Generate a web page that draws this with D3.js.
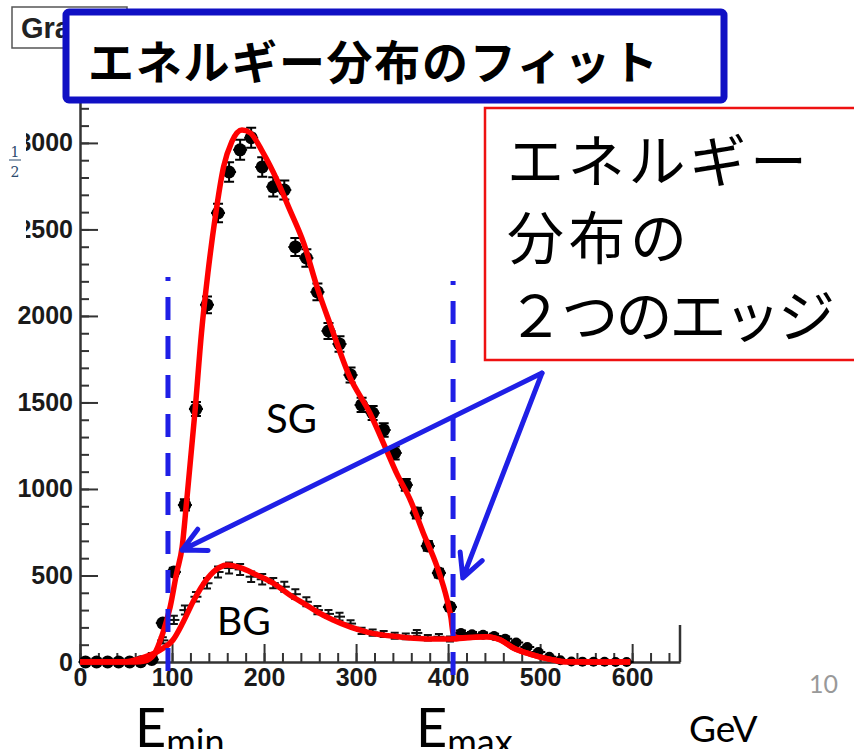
<!DOCTYPE html>
<html>
<head>
<meta charset="utf-8">
<script src="https://cdn.jsdelivr.net/npm/d3@7"></script>
<style>
  body { margin: 0; background: #fff; }
</style>
</head>
<body>
<script>
// --- datos ---

// histograma SG: centros de bin (GeV), cuentas, errores
var sgE = [6,18,30,42,54,66,78,90,102,114,126,138,150,162,174,186,198,210,222,234,
           246,258,270,282,294,306,318,330,342,354,366,378,390,402,414,426,438,450,462,474,
           486,498,510,522,534,546,558,570,582,594];
var sgN = [0,0,0,0,0,2,15,225,520,908,1462,2064,2595,2832,2960,3030,2861,2746,2728,2399,
           2335,2139,1913,1838,1659,1486,1439,1341,1208,1023,861,671,514,318,168,160,158,150,135,112,
           86,58,30,10,3,2,1,1,0,0];
var sgErr = [8,8,8,8,8,8,10,18,25,32,40,48,54,56,58,58,56,55,55,52,
             51,49,46,45,43,41,40,39,37,34,31,28,25,20,14,14,13,13,12,11,
             10,8,6,5,4,4,3,3,3,3];

// histograma BG
var bgE = [66,78,90,102,114,126,138,150,162,174,186,198,210,222,234,246,258,270,282,294,
           306,318,330,342,354,366,378,390,402];
var bgN = [10,40,125,243,300,377,455,520,543,535,493,478,456,435,392,348,300,278,262,222,
           180,170,162,152,148,168,140,146,133];
var bgErr = [8,12,18,24,26,28,30,32,32,32,30,30,30,29,28,26,24,23,22,20,
             18,18,17,17,16,17,16,16,15];

// curvas de ajuste (rojo)
var sgFitE = [0,60,70,80,90,98,105,111,116,125,132,139,147,156,165,176,185,199,214,228,
              243,258,272,293,315,333,344,359,373,388,399,403,406,412,424,442,457,471,489,514,527,598];
var sgFitN = [0,0,5,40,167,318,514,665,936,1450,1902,2248,2572,2861,3008,3075,3058,2942,2786,2613,
              2422,2160,1950,1649,1439,1225,1092,936,746,551,358,260,150,140,142,146,127,81,46,12,1,0];
var bgFitE = [0,50,65,87,101,112,123,138,152,160,174,192,210,228,246,258,275,312,348,384,
              404,424,442,457,471,489,514,527,598];
var bgFitN = [0,2,20,69,127,230,350,480,548,560,545,503,456,387,329,289,243,173,145,133,
              133,142,146,127,81,46,12,1,0];

// ejes
var xMajor = [0,100,200,300,400,500,600];
var yMajor = [0,500,1000,1500,2000,2500,3000];

// anotaciones (en unidades de datos)
var edges = [95.6, 405.4];            // Emin, Emax
var arrowFrom = [502, 1670];
var arrowTips = [[111, 647], [416, 486]];

var azul = "#1f1fe6";

var svg = d3.select("body")
    .append("svg")
    .attr("width", 854)
    .attr("height", 749);

var x = d3.scaleLinear().domain([0, 652]).range([80, 680]);
var y = d3.scaleLinear().domain([0, 3300]).range([662, 91]);

// "Gra" caja de ROOT (queda debajo del titulo)
svg.append("rect")
    .attr("x", 12).attr("y", 7).attr("width", 115).attr("height", 41)
    .attr("fill", "#fff").attr("stroke", "#555").attr("stroke-width", 1.5);
svg.append("text")
    .attr("x", 21).attr("y", 38)
    .attr("font-family", "Liberation Sans, Arial, sans-serif")
    .attr("font-weight", "bold").attr("font-size", 29)
    .attr("fill", "#222")
    .text("Gra");

// ejes con ticks hacia dentro, como en ROOT
var fontAxis = "Liberation Sans, Arial, sans-serif";

svg.append("g")
    .attr("transform", "translate(80,0)")
    .call(d3.axisLeft(y).tickValues(d3.range(0, 3301, 100)).tickSize(-9).tickSizeOuter(0).tickFormat(""))
    .call(g => g.select(".domain").remove());

var gy = svg.append("g")
    .attr("transform", "translate(80,0)")
    .call(d3.axisLeft(y).tickValues(yMajor).tickSize(-18).tickSizeOuter(0).tickPadding(7).tickFormat(d3.format("d")));

svg.append("g")
    .attr("transform", "translate(0,662)")
    .call(d3.axisBottom(x).tickValues(d3.range(0, 641, 20)).tickSize(-9).tickSizeOuter(0).tickFormat(""))
    .call(g => g.select(".domain").remove());

var gx = svg.append("g")
    .attr("transform", "translate(0,662)")
    .call(d3.axisBottom(x).tickValues(xMajor).tickSize(-18).tickSizeOuter(0).tickPadding(6).tickFormat(d3.format("d")));

svg.selectAll(".tick line").attr("stroke", "#333").attr("stroke-width", 2);
svg.selectAll(".domain").attr("stroke", "#333").attr("stroke-width", 2.5);
svg.selectAll(".tick text")
    .attr("font-family", fontAxis)
    .attr("font-weight", "bold")
    .attr("font-size", 25)
    .attr("fill", "#1a1a1a");

// borde derecho del marco
svg.append("line")
    .attr("x1", x.range()[1]).attr("x2", x.range()[1])
    .attr("y1", 625).attr("y2", 662)
    .attr("stroke", "#333").attr("stroke-width", 2.5);

// recorte de las etiquetas de arriba y la fraccion 1/2
svg.append("rect").attr("x", 0).attr("y", 120).attr("width", 26).attr("height", 120).attr("fill", "#fff");
var frac = svg.append("g").attr("font-family", "DejaVu Serif, serif").attr("font-size", 14).attr("fill", "#2b4a6e");
frac.append("text").attr("x", 15).attr("y", 157).attr("text-anchor", "middle").text("1");
frac.append("line").attr("x1", 9).attr("x2", 21).attr("y1", 160).attr("y2", 160).attr("stroke", "#2b4a6e").attr("stroke-width", 1);
frac.append("text").attr("x", 15).attr("y", 177).attr("text-anchor", "middle").text("2");

// BG: barras de error
var bg = bgE.map((e, i) => ({e: e, n: bgN[i], err: bgErr[i]}));
var gBg = svg.append("g").attr("stroke", "#111").attr("stroke-width", 2);
gBg.selectAll(".v").data(bg).enter().append("line")
    .attr("x1", d => x(d.e)).attr("x2", d => x(d.e))
    .attr("y1", d => y(d.n - d.err)).attr("y2", d => y(d.n + d.err));
gBg.selectAll(".h").data(bg).enter().append("line")
    .attr("x1", d => x(d.e - 6)).attr("x2", d => x(d.e + 6))
    .attr("y1", d => y(d.n)).attr("y2", d => y(d.n));
gBg.selectAll(".c").data(bg).enter().append("path")
    .attr("d", d => "M" + (x(d.e) - 4) + "," + y(d.n + d.err) + "H" + (x(d.e) + 4) +
                    "M" + (x(d.e) - 4) + "," + y(d.n - d.err) + "H" + (x(d.e) + 4));

// SG: puntos con error
var sg = sgE.map((e, i) => ({e: e, n: sgN[i], err: sgErr[i]}));
var gSg = svg.append("g");
gSg.selectAll("path").data(sg).enter().append("path")
    .attr("stroke", "#000").attr("stroke-width", 2).attr("fill", "none")
    .attr("d", d => "M" + x(d.e) + "," + y(d.n - d.err) + "V" + y(d.n + d.err) +
                    "M" + (x(d.e) - 5) + "," + y(d.n + d.err) + "H" + (x(d.e) + 5) +
                    "M" + (x(d.e) - 5) + "," + y(d.n - d.err) + "H" + (x(d.e) + 5) +
                    "M" + (x(d.e) - 7) + "," + y(d.n) + "H" + (x(d.e) + 7));
gSg.selectAll("circle").data(sg).enter().append("circle")
    .attr("cx", d => x(d.e)).attr("cy", d => y(d.n))
    .attr("r", d => d.e > 405 ? 5 : 6.5)
    .attr("fill", "#000");

// curvas de ajuste
var line = d3.line().x(d => x(d[0])).y(d => y(d[1])).curve(d3.curveMonotoneX);
svg.append("path")
    .attr("d", line(bgFitE.map((e, i) => [e, bgFitN[i]])))
    .attr("fill", "none").attr("stroke", "#ff0000").attr("stroke-width", 5.5).attr("stroke-linejoin", "round");
svg.append("path")
    .attr("d", line(sgFitE.map((e, i) => [e, sgFitN[i]])))
    .attr("fill", "none").attr("stroke", "#ff0000").attr("stroke-width", 5.5).attr("stroke-linejoin", "round");

// lineas discontinuas Emin / Emax
svg.selectAll(".edge").data(edges).enter().append("line")
    .attr("x1", d => x(d)).attr("x2", d => x(d))
    .attr("y1", (d, i) => i == 0 ? 277 : 281).attr("y2", 680)
    .attr("stroke", azul).attr("stroke-width", 5)
    .attr("stroke-dasharray", "23 16").attr("stroke-dashoffset", 19);

// flechas
var x0 = x(arrowFrom[0]), y0 = y(arrowFrom[1]);
arrowTips.forEach(function(t) {
    var tx = x(t[0]), ty = y(t[1]);
    var ang = Math.atan2(y0 - ty, x0 - tx);
    var L = 26, a = 27 * Math.PI / 180;
    var p = "M" + x0 + "," + y0 + "L" + tx + "," + ty +
        "M" + (tx + L * Math.cos(ang - a)) + "," + (ty + L * Math.sin(ang - a)) + "L" + tx + "," + ty +
        "L" + (tx + L * Math.cos(ang + a)) + "," + (ty + L * Math.sin(ang + a));
    svg.append("path").attr("d", p)
        .attr("fill", "none").attr("stroke", azul).attr("stroke-width", 5)
        .attr("stroke-linecap", "round").attr("stroke-linejoin", "round");
});

// textos SG / BG
var fontLat = "Lato, 'Open Sans', sans-serif";
svg.append("text").attr("x", 266).attr("y", 433).attr("font-family", fontLat).attr("font-size", 40).text("SG");
svg.append("text").attr("x", 217).attr("y", 635).attr("font-family", fontLat).attr("font-size", 39).text("BG");

// Emin, Emax, GeV, numero de pagina
[["min", 135], ["max", 416]].forEach(function(s) {
    var t = svg.append("text").attr("x", s[1]).attr("y", 747).attr("font-family", fontLat).attr("font-size", 54);
    t.append("tspan").text("E");
    t.append("tspan").attr("font-size", 36).attr("dy", 8).text(s[0]);
});
svg.append("text").attr("x", 689).attr("y", 742).attr("font-family", fontLat).attr("font-size", 37).text("GeV");
svg.append("text").attr("x", 809).attr("y", 693).attr("font-family", fontLat).attr("font-size", 25).attr("fill", "#999").text("10");

// caja del titulo
svg.append("rect")
    .attr("x", 66).attr("y", 12).attr("width", 658).attr("height", 88).attr("rx", 3)
    .attr("fill", "#fff").attr("stroke", "#1010c4").attr("stroke-width", 7);
svg.append("text")
    .attr("x", 88).attr("y", 59)
    .attr("dominant-baseline", "central")
    .attr("font-family", "'Noto Sans CJK JP', sans-serif")
    .attr("font-weight", "bold").attr("font-size", 46)
    .attr("textLength", 570).attr("lengthAdjust", "spacing")
    .text("エネルギー分布のフィット");

// caja roja con el comentario
svg.append("rect")
    .attr("x", 485).attr("y", 108).attr("width", 380).attr("height", 252)
    .attr("fill", "#fff").attr("stroke", "#ee1111").attr("stroke-width", 2.5);
var lineas = ["エネルギー", "分布の", "２つのエッジ"];
var anchos = [300, 180, 328];
var centros = [157, 234, 312];
svg.selectAll(".nota").data(lineas).enter().append("text")
    .attr("x", 507).attr("y", (d, i) => centros[i])
    .attr("dominant-baseline", "central")
    .attr("font-family", "'Noto Sans CJK JP', sans-serif")
    .attr("font-size", 57)
    .attr("textLength", (d, i) => anchos[i]).attr("lengthAdjust", "spacing")
    .text(d => d);
</script>
</body>
</html>
